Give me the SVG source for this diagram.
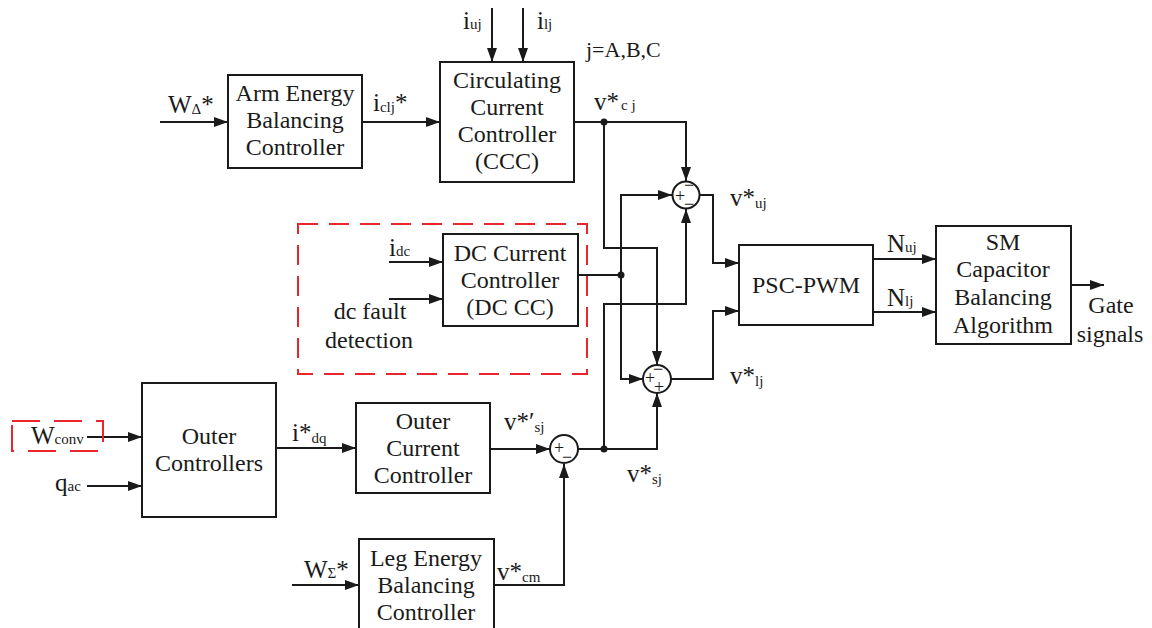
<svg xmlns="http://www.w3.org/2000/svg" width="1152" height="628" viewBox="0 0 1152 628">
<style>
  .box{fill:#fff;stroke:#1a1a1a;stroke-width:2}
  .ln{fill:none;stroke:#1a1a1a;stroke-width:2}
  .ar{fill:none;stroke:#1a1a1a;stroke-width:2;marker-end:url(#ah)}
  .red{fill:none;stroke:#e8262b;stroke-width:2;stroke-dasharray:20 11}
  .sum{fill:#fff;stroke:#1a1a1a;stroke-width:2}
  text{font-family:"Liberation Serif","Times New Roman",serif;fill:#1a1a1a}
  .t{font-size:24px;text-anchor:middle}
  .l{font-size:25px}
  .s{font-size:15px}
  .sg{font-size:18px;text-anchor:middle;dominant-baseline:central}
</style>
<defs>
  <marker id="ah" markerUnits="userSpaceOnUse" markerWidth="15" markerHeight="11" refX="14" refY="5" orient="auto">
    <path d="M0,0 L14,5 L0,10 Z" fill="#1a1a1a"/>
  </marker>
</defs>

<g id="connectors">
  <line class="ar" x1="160" y1="122" x2="228" y2="122"/>
  <line class="ar" x1="362" y1="122" x2="440" y2="122"/>
  <line class="ar" x1="492" y1="8" x2="492" y2="62"/>
  <line class="ar" x1="523" y1="8" x2="523" y2="62"/>
  <polyline class="ar" points="574,122 686,122 686,181"/>
  <polyline class="ar" points="604,122 604,248 657,248 657,365"/>
  <line class="ln" x1="578" y1="275" x2="621" y2="275"/>
  <polyline class="ar" points="621,275 621,195 672,195"/>
  <polyline class="ar" points="621,275 621,379 643,379"/>
  <polyline class="ar" points="604,449 604,304 686,304 686,209"/>
  <polyline class="ar" points="578,449 657,449 657,393"/>
  <polyline class="ar" points="700,195 713,195 713,263 739,263"/>
  <polyline class="ar" points="671,379 713,379 713,311 739,311"/>
  <line class="ar" x1="873" y1="259" x2="936" y2="259"/>
  <line class="ar" x1="873" y1="312" x2="936" y2="312"/>
  <line class="ar" x1="1071" y1="285" x2="1104" y2="285"/>
  <line class="ar" x1="389" y1="262" x2="443" y2="262"/>
  <line class="ar" x1="389" y1="299" x2="443" y2="299"/>
  <line class="ar" x1="87" y1="437" x2="142" y2="437"/>
  <line class="ar" x1="87" y1="486" x2="142" y2="486"/>
  <line class="ar" x1="276" y1="448" x2="356" y2="448"/>
  <line class="ar" x1="490" y1="449" x2="550" y2="449"/>
  <line class="ar" x1="292" y1="585" x2="359" y2="585"/>
  <polyline class="ar" points="494,585 564,585 564,464"/>
  <circle cx="604" cy="122" r="3.5" fill="#1a1a1a"/>
  <circle cx="621" cy="275" r="3.5" fill="#1a1a1a"/>
  <circle cx="604" cy="449" r="3.5" fill="#1a1a1a"/>
</g>

<g id="dc-region">
  <rect class="red" x="298" y="224" width="289" height="150"/>
</g>
<g id="wconv-mark">
  <rect class="red" x="12" y="421" width="91" height="30" style="stroke-dasharray:28 14"/>
</g>

<g id="arm-energy">
  <rect class="box" x="228" y="75" width="134" height="93"/>
  <text class="t" x="295" y="101">Arm Energy</text>
  <text class="t" x="295" y="128">Balancing</text>
  <text class="t" x="295" y="155">Controller</text>
</g>

<g id="ccc">
  <rect class="box" x="440" y="62" width="134" height="120"/>
  <text class="t" x="507" y="88">Circulating</text>
  <text class="t" x="507" y="115">Current</text>
  <text class="t" x="507" y="142">Controller</text>
  <text class="t" x="507" y="169">(CCC)</text>
</g>

<g id="dccc">
  <rect class="box" x="443" y="234" width="135" height="92"/>
  <text class="t" x="510" y="261">DC Current</text>
  <text class="t" x="510" y="288">Controller</text>
  <text class="t" x="510" y="315">(DC CC)</text>
</g>

<g id="psc-pwm">
  <rect class="box" x="739" y="245" width="134" height="80"/>
  <text class="t" x="806" y="293">PSC-PWM</text>
</g>

<g id="sm-balancing">
  <rect class="box" x="936" y="226" width="135" height="118"/>
  <text class="t" x="1003" y="250">SM</text>
  <text class="t" x="1003" y="277">Capacitor</text>
  <text class="t" x="1003" y="305">Balancing</text>
  <text class="t" x="1003" y="333">Algorithm</text>
</g>

<g id="outer-controllers">
  <rect class="box" x="142" y="383" width="134" height="134"/>
  <text class="t" x="209" y="444">Outer</text>
  <text class="t" x="209" y="471">Controllers</text>
</g>

<g id="outer-current">
  <rect class="box" x="356" y="403" width="134" height="90"/>
  <text class="t" x="423" y="429">Outer</text>
  <text class="t" x="423" y="456">Current</text>
  <text class="t" x="423" y="483">Controller</text>
</g>

<g id="leg-energy">
  <rect class="box" x="359" y="539" width="135" height="100"/>
  <text class="t" x="426" y="566">Leg Energy</text>
  <text class="t" x="426" y="593">Balancing</text>
  <text class="t" x="426" y="620">Controller</text>
</g>

<g id="sum-upper">
  <circle class="sum" cx="686" cy="195" r="13.5"/>
  <text class="sg"><tspan x="680" y="196">+</tspan><tspan x="689" y="185">−</tspan><tspan x="689" y="204">−</tspan></text>
</g>
<g id="sum-lower">
  <circle class="sum" cx="657" cy="379" r="14"/>
  <text class="sg"><tspan x="650" y="378">+</tspan><tspan x="658" y="369">−</tspan><tspan x="659" y="387">+</tspan></text>
</g>
<g id="sum-bottom">
  <circle class="sum" cx="564" cy="449" r="14"/>
  <text class="sg"><tspan x="559" y="448">+</tspan><tspan x="567" y="457">−</tspan></text>
</g>

<g id="labels">
  <text class="l" x="168" y="113">W<tspan class="s" dy="1">Δ</tspan><tspan dy="-1">*</tspan></text>
  <text class="l" x="373" y="111">i<tspan class="s" dy="1">clj</tspan><tspan dy="-1">*</tspan></text>
  <text class="l" x="463" y="29">i<tspan class="s">uj</tspan></text>
  <text class="l" x="537" y="29">i<tspan class="s">lj</tspan></text>
  <text class="l" x="586" y="57" style="font-size:22px">j=A,B,C</text>
  <text class="l" x="594" y="110">v*<tspan class="s" dx="2">c j</tspan></text>
  <text class="l" x="730" y="206">v*<tspan class="s" dy="2">uj</tspan></text>
  <text class="l" x="730" y="384">v*<tspan class="s" dy="2">lj</tspan></text>
  <text class="l" x="887" y="252">N<tspan class="s">uj</tspan></text>
  <text class="l" x="887" y="306">N<tspan class="s">lj</tspan></text>
  <text class="t" x="1111" y="313">Gate</text>
  <text class="t" x="1110" y="342">signals</text>
  <text class="l" x="389" y="256">i<tspan class="s">dc</tspan></text>
  <text class="t" x="370" y="319">dc fault</text>
  <text class="t" x="369" y="348">detection</text>
  <text class="l" x="31" y="444">W<tspan class="s">conv</tspan></text>
  <text class="l" x="55" y="491">q<tspan class="s">ac</tspan></text>
  <text class="l" x="292" y="441">i*<tspan class="s" dy="2">dq</tspan></text>
  <text class="l" x="504" y="430">v*′<tspan class="s" dy="2">sj</tspan></text>
  <text class="l" x="627" y="482">v*<tspan class="s" dy="2">sj</tspan></text>
  <text class="l" x="304" y="578">W<tspan class="s">Σ</tspan>*</text>
  <text class="l" x="497" y="580">v*<tspan class="s" dy="2">cm</tspan></text>
</g>
</svg>
